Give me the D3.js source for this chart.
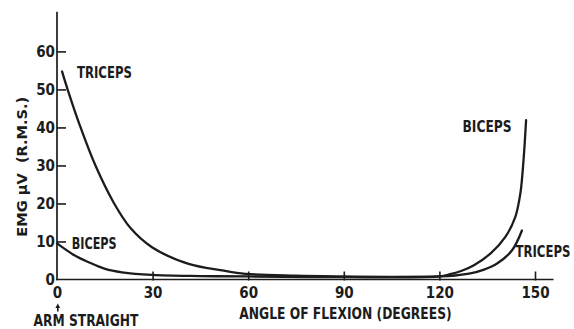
<!DOCTYPE html>
<html>
<head>
<meta charset="utf-8">
<script src="https://cdn.jsdelivr.net/npm/d3@7"></script>
<style>
  html, body { margin: 0; padding: 0; background: #fff; }
  svg { display: block; }
  text { font-family: "DejaVu Sans Condensed", "Liberation Sans Narrow", sans-serif; font-weight: bold; fill: #1c1c1c; }
</style>
</head>
<body>
<svg id="chart" width="574" height="329"></svg>
<script>
// Axis ticks
const angleTicks = [0, 30, 60, 90, 120, 150];
const emgTicks = [0, 10, 20, 30, 40, 50, 60];

// Triceps EMG (µV r.m.s.) against elbow flexion angle (degrees)
const tricepsAngle = [1.6, 3.6, 7.1, 12.0, 17.8, 23.0, 29.8, 41.3, 51.8, 59.1, 75, 90, 105, 120, 125, 129.7, 134.0, 138.1, 142.8, 145.9];
const tricepsEmg   = [54.7, 49.3, 40.7, 30.1, 20.2, 13.6, 8.5, 4.1, 2.4, 1.5, 1.0, 0.8, 0.7, 0.8, 1.05, 1.6, 2.6, 4.2, 7.7, 12.9];

// Biceps EMG (µV r.m.s.) against elbow flexion angle (degrees)
const bicepsAngle = [0, 5.6, 9.8, 15.1, 20.4, 29.8, 45, 60, 90, 120, 123.4, 127.0, 130.7, 136.0, 140.7, 143.8, 145.4, 146.4, 147.2];
const bicepsEmg   = [9.5, 6.3, 4.6, 2.8, 1.9, 1.2, 0.9, 0.8, 0.6, 0.8, 1.4, 2.3, 3.7, 6.8, 11.2, 16.4, 22.6, 31.4, 41.9];

const svg = d3.select("#chart");
const ink = "#1c1c1c";

const x = d3.scaleLinear().domain([0, 150]).range([57, 535]);
const y = d3.scaleLinear().domain([0, 60]).range([279.5, 51.4]);

// Baseline for an all-caps label whose visual centre sits at cy
const capBase = (cy, size) => cy + 0.36 * size;

// ---- Y axis ----
const yAxis = d3.axisLeft(y)
  .tickValues(emgTicks)
  .tickSizeInner(-9)
  .tickSizeOuter(0)
  .tickPadding(2);
const gy = svg.append("g").attr("transform", `translate(${x(0)},0)`).call(yAxis);
gy.select(".domain").remove();
gy.selectAll(".tick line").attr("stroke", ink).attr("stroke-width", 1.6)
  .filter(d => d === 0).remove();
gy.selectAll(".tick text")
  .attr("font-size", 15)
  .attr("dy", null)
  .attr("y", capBase(0, 15))
  .attr("fill", ink);

// ---- X axis ----
const xAxis = d3.axisBottom(x)
  .tickValues(angleTicks)
  .tickSizeInner(-8)
  .tickSizeOuter(0)
  .tickPadding(0);
const gx = svg.append("g").attr("transform", `translate(0,${y(0)})`).call(xAxis);
gx.select(".domain").remove();
gx.selectAll(".tick line").attr("stroke", ink).attr("stroke-width", 1.6).attr("y2", -8).attr("y1", 1)
  .filter(d => d === 0).remove();
gx.selectAll(".tick text")
  .attr("font-size", 15)
  .attr("dy", null)
  .attr("y", capBase(13.5, 15))
  .attr("fill", ink);

// Axis lines
svg.append("line")
  .attr("x1", x(0)).attr("x2", x(0))
  .attr("y1", y(0) + 0.8).attr("y2", y(70.4))
  .attr("stroke", ink).attr("stroke-width", 1.7);
svg.append("line")
  .attr("x1", x(0) - 0.8).attr("x2", x(155.8))
  .attr("y1", y(0)).attr("y2", y(0))
  .attr("stroke", ink).attr("stroke-width", 1.7);

// ---- Curves ----
const line = d3.line()
  .x(d => x(d[0]))
  .y(d => y(d[1]))
  .curve(d3.curveCatmullRom.alpha(0.5));

const triceps = d3.zip(tricepsAngle, tricepsEmg);
const biceps = d3.zip(bicepsAngle, bicepsEmg);

[triceps, biceps].forEach(series => {
  svg.append("path")
    .datum(series)
    .attr("d", line)
    .attr("fill", "none")
    .attr("stroke", ink)
    .attr("stroke-width", 2.3)
    .attr("stroke-linecap", "round")
    .attr("stroke-linejoin", "round");
});

// ---- Labels (condensed horizontally to span x0..x1) ----
function label(text, x0, x1, cy, size) {
  const t = svg.append("text")
    .attr("font-size", size)
    .text(text);
  const w = t.node().getComputedTextLength();
  t.attr("transform", `translate(${x0},${capBase(cy, size)}) scale(${(x1 - x0) / w},1)`);
}

label("TRICEPS", 77, 132, 72, 15.5);
label("BICEPS", 71.7, 116.7, 243.3, 15.5);
label("BICEPS", 462.5, 511.7, 126, 15.5);
label("TRICEPS", 515.5, 570.5, 251.7, 15.5);
label("ANGLE OF FLEXION  (DEGREES)", 239.3, 451.7, 313, 16);
label("ARM STRAIGHT", 33.5, 138.5, 320.8, 15.5);

// Y axis title (rotated)
const yTitle = svg.append("text")
  .attr("text-anchor", "middle")
  .attr("font-size", 14)
  .attr("xml:space", "preserve")
  .text("EMG \u03BCV  (R.M.S.)");
const yTitleW = yTitle.node().getComputedTextLength();
yTitle.attr("transform", `translate(${21.7 + 0.36 * 14},${166.7}) rotate(-90) scale(${140 / yTitleW},1)`);

// Arrow marking the straight-arm position
const ax = x(0) + 0.8;
svg.append("line")
  .attr("x1", ax).attr("x2", ax)
  .attr("y1", 311.5).attr("y2", 306)
  .attr("stroke", ink).attr("stroke-width", 1.6);
svg.append("path")
  .attr("d", d3.line()([[ax - 2.4, 308], [ax, 303.5], [ax + 2.4, 308]]) + "Z")
  .attr("fill", ink);
</script>
</body>
</html>
